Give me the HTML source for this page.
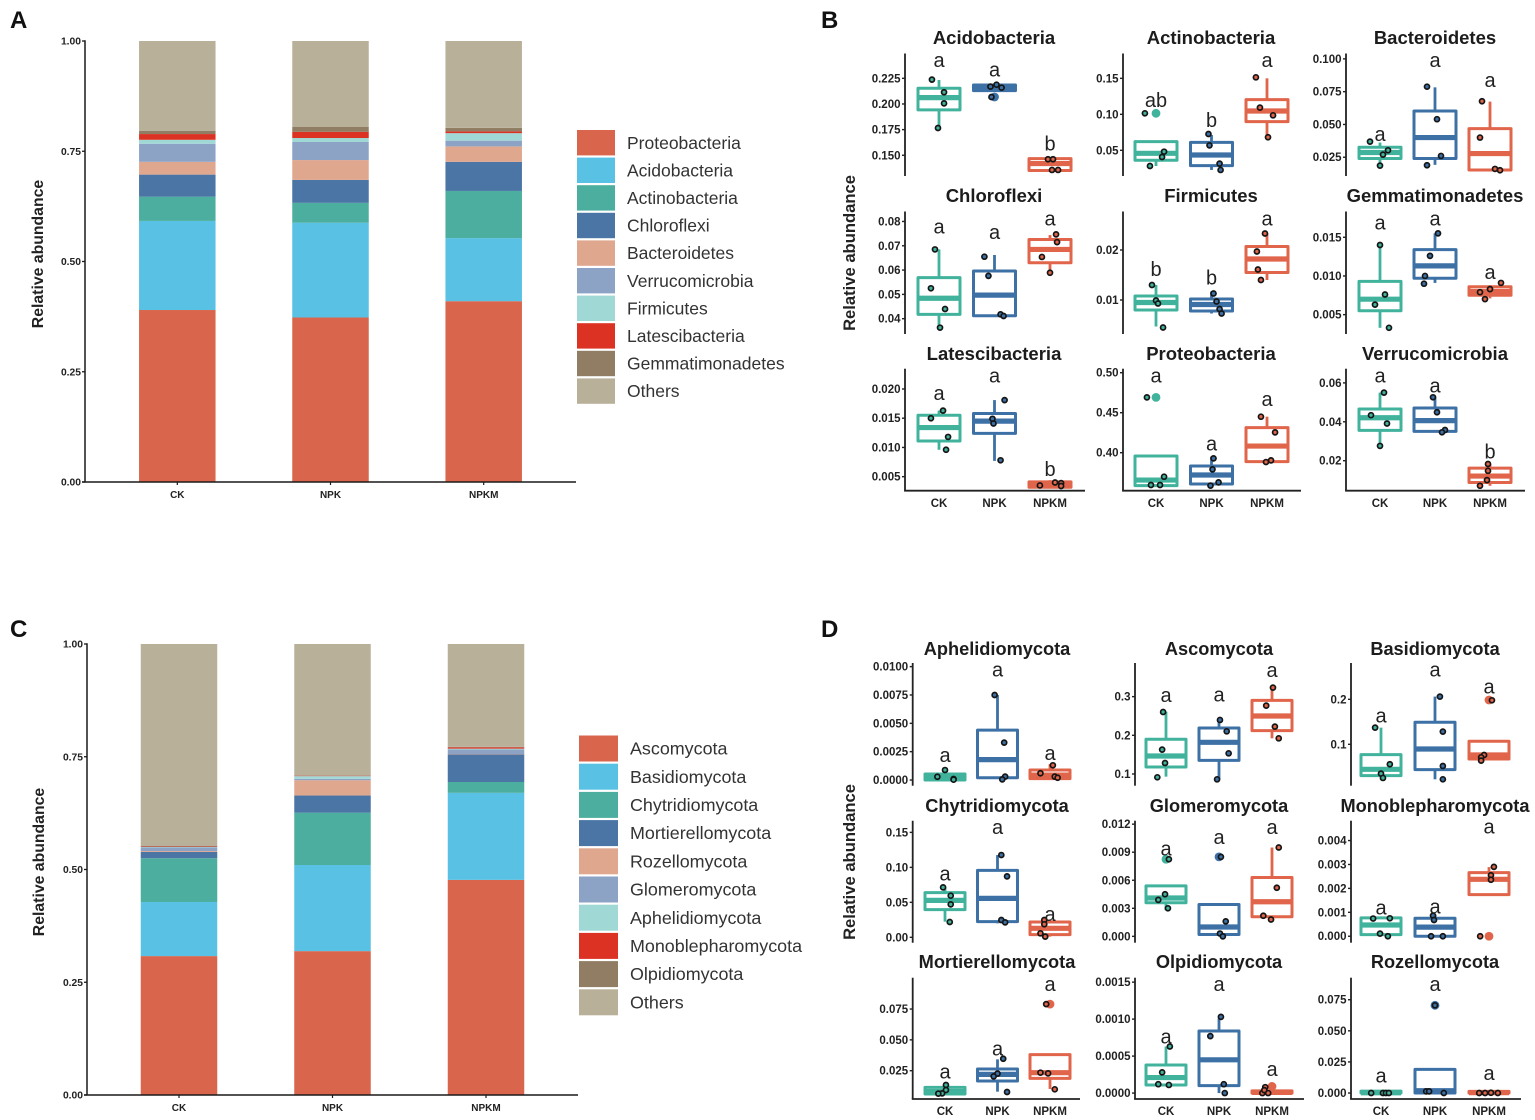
<!DOCTYPE html>
<html lang="en">
<head>
<meta charset="utf-8">
<title>Relative abundance of bacterial and fungal phyla</title>
<style>
html,body{margin:0;padding:0;background:#fff;width:1535px;height:1120px;overflow:hidden}
svg{display:block}
text{font-family:"Liberation Sans",Arial,sans-serif}
</style>
</head>
<body>
<svg id="figure" xmlns="http://www.w3.org/2000/svg" width="1535" height="1120" viewBox="0 0 1535 1120">
  <rect x="0" y="0" width="1535" height="1120" fill="#ffffff"/>
  <text x="10" y="28" font-size="24" font-weight="700" fill="#111">A</text>
  <text x="821" y="28" font-size="24" font-weight="700" fill="#111">B</text>
  <text x="10" y="637" font-size="24" font-weight="700" fill="#111">C</text>
  <text x="821" y="637" font-size="24" font-weight="700" fill="#111">D</text>
  <text transform="translate(43 254) rotate(-90)" text-anchor="middle" font-size="15.8" font-weight="700" fill="#222">Relative abundance</text>
  <text transform="translate(855 253) rotate(-90)" text-anchor="middle" font-size="16.6" font-weight="700" fill="#222">Relative abundance</text>
  <text transform="translate(44 862) rotate(-90)" text-anchor="middle" font-size="15.8" font-weight="700" fill="#222">Relative abundance</text>
  <text transform="translate(855 862) rotate(-90)" text-anchor="middle" font-size="16.6" font-weight="700" fill="#222">Relative abundance</text>
</svg>
<script>
/* ---------- shared categories ---------- */
const treatments = ['CK', 'NPK', 'NPKM'];
const stackTicks = ['0.00', '0.25', '0.50', '0.75', '1.00'];

/* ---------- panel A: stacked bars ---------- */
const bacteriaPhyla = ['Proteobacteria', 'Acidobacteria', 'Actinobacteria', 'Chloroflexi', 'Bacteroidetes', 'Verrucomicrobia', 'Firmicutes', 'Latescibacteria', 'Gemmatimonadetes', 'Others'];
const bacteriaCK = [0.390, 0.202, 0.055, 0.050, 0.029, 0.041, 0.009, 0.013, 0.007, 0.204];
const bacteriaNPK = [0.373, 0.215, 0.045, 0.052, 0.045, 0.041, 0.009, 0.014, 0.011, 0.195];
const bacteriaNPKM = [0.410, 0.143, 0.107, 0.066, 0.035, 0.013, 0.017, 0.004, 0.008, 0.197];

/* ---------- panel C: stacked bars ---------- */
const fungiPhyla = ['Ascomycota', 'Basidiomycota', 'Chytridiomycota', 'Mortierellomycota', 'Rozellomycota', 'Glomeromycota', 'Aphelidiomycota', 'Monoblepharomycota', 'Olpidiomycota', 'Others'];
const fungiCK = [0.308, 0.120, 0.097, 0.014, 0.002, 0.008, 0.001, 0.001, 0.001, 0.448];
const fungiNPK = [0.319, 0.191, 0.116, 0.038, 0.034, 0.003, 0.006, 0.001, 0.001, 0.291];
const fungiNPKM = [0.477, 0.193, 0.024, 0.061, 0.001, 0.010, 0.002, 0.003, 0.001, 0.228];

/* ---------- panel B: box plots (box = low whisker, q1, median, q3, high whisker) ---------- */
const titlesB = ['Acidobacteria', 'Actinobacteria', 'Bacteroidetes', 'Chloroflexi', 'Firmicutes', 'Gemmatimonadetes', 'Latescibacteria', 'Proteobacteria', 'Verrucomicrobia'];
const domainsB = [[0.1298, 0.2492], [0.0143, 0.1845], [0.0107, 0.1041], [0.0337, 0.0841], [0.0032, 0.0277], [0.0025, 0.01833], [0.0026, 0.02347], [0.3525, 0.505], [0.00458, 0.0673]];
const tickLabelsB = [
  ['0.150', '0.175', '0.200', '0.225'], ['0.05', '0.10', '0.15'], ['0.025', '0.050', '0.075', '0.100'],
  ['0.04', '0.05', '0.06', '0.07', '0.08'], ['0.01', '0.02'], ['0.005', '0.010', '0.015'],
  ['0.005', '0.010', '0.015', '0.020'], ['0.40', '0.45', '0.50'], ['0.02', '0.04', '0.06']
];
const lettersB = [['a', 'a', 'b'], ['ab', 'b', 'a'], ['a', 'a', 'a'], ['a', 'a', 'a'], ['b', 'b', 'a'], ['a', 'a', 'a'], ['a', 'a', 'b'], ['a', 'a', 'a'], ['a', 'a', 'b']];
const letterValuesB = [[0.2419, 0.2325, 0.1607], [0.1185, 0.0907, 0.1741], [0.0420, 0.0984, 0.0832], [0.0776, 0.0753, 0.0809], [0.0160, 0.0143, 0.0261], [0.0168, 0.0173, 0.0104], [0.0191, 0.0221, 0.0061], [0.495, 0.4104, 0.4658], [0.0633, 0.0581, 0.0241]];
const boxesB = [
  [[0.1763, 0.1942, 0.2062, 0.2153, 0.2234], [0.2130, 0.2130, 0.2159, 0.2185, 0.2185], [0.1351, 0.1351, 0.1419, 0.1467, 0.1467]],
  [[0.0282, 0.0361, 0.0458, 0.0620, 0.0620], [0.0227, 0.0287, 0.0435, 0.0611, 0.0713], [0.0653, 0.0898, 0.1046, 0.1204, 0.1500]],
  [[0.0179, 0.0240, 0.0286, 0.0326, 0.0362], [0.0192, 0.0240, 0.0400, 0.0603, 0.0783], [0.0153, 0.0153, 0.0278, 0.0468, 0.0674]],
  [[0.0363, 0.0418, 0.0484, 0.0569, 0.0685], [0.0411, 0.0412, 0.0497, 0.0596, 0.0662], [0.0589, 0.0630, 0.0685, 0.0726, 0.0744]],
  [[0.0047, 0.0080, 0.0095, 0.0108, 0.0130], [0.0073, 0.0078, 0.0091, 0.0102, 0.0117], [0.0140, 0.0155, 0.0182, 0.0207, 0.0233]],
  [[0.0033, 0.0055, 0.0070, 0.0093, 0.0140], [0.0091, 0.0097, 0.0113, 0.0134, 0.0155], [0.0071, 0.0075, 0.0080, 0.0086, 0.0088]],
  [[0.0096, 0.0111, 0.0134, 0.0155, 0.0163], [0.0077, 0.0124, 0.0145, 0.0158, 0.0181], [0.0031, 0.0032, 0.0037, 0.0041, 0.0044]],
  [[0.3588, 0.3588, 0.3658, 0.3958, 0.3958], [0.3588, 0.3608, 0.3721, 0.3833, 0.3950], [0.3888, 0.3888, 0.4083, 0.4313, 0.4450]],
  [[0.0276, 0.0356, 0.0421, 0.0466, 0.0550], [0.0351, 0.0351, 0.0406, 0.0471, 0.0526], [0.0071, 0.0088, 0.0121, 0.0162, 0.0183]]
];
const pointsB = [
  [[0.2237, 0.2114, 0.2006, 0.1766], [0.2169, 0.2188, 0.2159, 0.2068], [0.1461, 0.1461, 0.1357, 0.1357]],
  [[0.1014, 0.0481, 0.0407, 0.0282], [0.0727, 0.0569, 0.0315, 0.0227], [0.1514, 0.1093, 0.0986, 0.0681]],
  [[0.0369, 0.0303, 0.0270, 0.0186], [0.0788, 0.0540, 0.0260, 0.0189], [0.0677, 0.0400, 0.0161, 0.0151]],
  [[0.0685, 0.0525, 0.0440, 0.0363], [0.0655, 0.0576, 0.0418, 0.0411], [0.0747, 0.0715, 0.0654, 0.0589]],
  [[0.0130, 0.0099, 0.0093, 0.0045], [0.0113, 0.0097, 0.0082, 0.0073], [0.0233, 0.0197, 0.0161, 0.0140]],
  [[0.0140, 0.0076, 0.0063, 0.0033], [0.0155, 0.0126, 0.0100, 0.0090], [0.0091, 0.0083, 0.0079, 0.0070]],
  [[0.0163, 0.0150, 0.0118, 0.0096], [0.0181, 0.0149, 0.0141, 0.0078], [0.0035, 0.0040, 0.0039, 0.0034]],
  [[0.4692, 0.3700, 0.3596, 0.3596], [0.3929, 0.3792, 0.3629, 0.3588], [0.4450, 0.4254, 0.3883, 0.3904]],
  [[0.0550, 0.0434, 0.0391, 0.0276], [0.0526, 0.0449, 0.0358, 0.0346], [0.0183, 0.0148, 0.0100, 0.0071]]
];
const jitterB = [
  [[-7, 5, 5, -1], [-4, 2, 7, -3], [-2, 3, 2, 8]],
  [[-11, 8, 6, -6], [-3, -2, 8, 9], [-11, -7, 6, 1]],
  [[-10, 8, 3, 0], [-8, 2, 6, -8], [-8, -10, 5, 10]],
  [[-4, -8, 6, 1], [-10, -6, 6, 9], [6, 7, -8, 0]],
  [[-4, 0, 2, 7], [2, 5, 8, 10], [-2, -10, -9, -6]],
  [[0, 5, -5, 9], [3, -5, -10, -11], [11, 0, -10, -5]],
  [[4, -8, 9, 7], [10, -2, -1, 6], [-10, 5, 11, 11]],
  [[-9, 8, -5, 4], [2, 1, 7, -1], [-6, 8, -1, 4]],
  [[4, -9, 7, 0], [-2, 2, 10, 7], [-2, -2, -3, -10]]
];
const outliersB = [[[1, 0.2068]], [[0, 0.1014]], [], [], [], [], [], [[0, 0.4692]], []];

/* ---------- panel D: box plots ---------- */
const titlesD = ['Aphelidiomycota', 'Ascomycota', 'Basidiomycota', 'Chytridiomycota', 'Glomeromycota', 'Monoblepharomycota', 'Mortierellomycota', 'Olpidiomycota', 'Rozellomycota'];
const domainsD = [[-0.0005, 0.01032], [0.0697, 0.387], [0.008, 0.2807], [-0.0077, 0.1667], [-0.00068, 0.01237], [-0.00027, 0.00483], [0.00205, 0.1004], [-0.00008, 0.00156], [-0.0048, 0.0927]];
const tickLabelsD = [
  ['0.0000', '0.0025', '0.0050', '0.0075', '0.0100'], ['0.1', '0.2', '0.3'], ['0.1', '0.2'],
  ['0.00', '0.05', '0.10', '0.15'], ['0.000', '0.003', '0.006', '0.009', '0.012'], ['0.000', '0.001', '0.002', '0.003', '0.004'],
  ['0.025', '0.050', '0.075'], ['0.0000', '0.0005', '0.0010', '0.0015'], ['0.000', '0.025', '0.050', '0.075']
];
const lettersD = [['a', 'a', 'a'], ['a', 'a', 'a'], ['a', 'a', 'a'], ['a', 'a', 'a'], ['a', 'a', 'a'], ['a', 'a', 'a'], ['a', 'a', 'a'], ['a', 'a', 'a'], ['a', 'a', 'a']];
const letterValuesD = [[0.0021, 0.00965, 0.0023], [0.3017, 0.3034, 0.3664], [0.1615, 0.2638, 0.2260], [0.0900, 0.1566, 0.0319], [0.0093, 0.0105, 0.0116], [0.00117, 0.00121, 0.00454], [0.0234, 0.0423, 0.0944], [0.00075, 0.00146, 0.00031], [0.0131, 0.0868, 0.0153]];
const boxesD = [
  [[0.0000, 0.0000, 0.0003, 0.00053, 0.0010], [0.0002, 0.0002, 0.0018, 0.0044, 0.0075], [0.00012, 0.00012, 0.00044, 0.00088, 0.0014]],
  [[0.0931, 0.1181, 0.1466, 0.1897, 0.2612], [0.0862, 0.1353, 0.1819, 0.2190, 0.2397], [0.1922, 0.2120, 0.2500, 0.2905, 0.3233]],
  [[0.0303, 0.0303, 0.0444, 0.0770, 0.1370], [0.0222, 0.0437, 0.0896, 0.1489, 0.2060], [0.0652, 0.0674, 0.0763, 0.1067, 0.1067]],
  [[0.0224, 0.0395, 0.0528, 0.0638, 0.0709], [0.0200, 0.0224, 0.0557, 0.0957, 0.1176], [0.0010, 0.0038, 0.0129, 0.0219, 0.0257]],
  [[0.0028, 0.0036, 0.0041, 0.0054, 0.0054], [0.0002, 0.0002, 0.0010, 0.0034, 0.0034], [0.0021, 0.0021, 0.0037, 0.0063, 0.0095]],
  [[0.00007, 0.00007, 0.00047, 0.00077, 0.00077], [0.0000, 0.0000, 0.00038, 0.00075, 0.00089], [0.00174, 0.00174, 0.00238, 0.00266, 0.00289]],
  [[0.0061, 0.0061, 0.0080, 0.0115, 0.0134], [0.0080, 0.0166, 0.0220, 0.0264, 0.0342], [0.0102, 0.0188, 0.0234, 0.0380, 0.0380]],
  [[0.00011, 0.00011, 0.00021, 0.00038, 0.00063], [0.0000, 0.0001, 0.00045, 0.00084, 0.00101], [0.0000, 0.0000, 0.00001, 0.00003, 0.00003]],
  [[0.0000, 0.0000, 0.0002, 0.0015, 0.0015], [0.0000, 0.0000, 0.0019, 0.0190, 0.0190], [0.0000, 0.0000, 0.0003, 0.0013, 0.0013]]
];
const pointsD = [
  [[0.00088, 0.00029, 0.00009, 0.00003], [0.0075, 0.0033, 0.0003, 0.00006], [0.0013, 0.0006, 0.0003, 0.0002]],
  [[0.2603, 0.1629, 0.1284, 0.0914], [0.2397, 0.2103, 0.1534, 0.0862], [0.3233, 0.2767, 0.2224, 0.1922]],
  [[0.1370, 0.0556, 0.0348, 0.0252], [0.2060, 0.1282, 0.0518, 0.0222], [0.1978, 0.0763, 0.0711, 0.0637]],
  [[0.0714, 0.0595, 0.0471, 0.0219], [0.1176, 0.0871, 0.0248, 0.0214], [0.0248, 0.0186, 0.0057, 0.0010]],
  [[0.00825, 0.0045, 0.0039, 0.0030], [0.0085, 0.0016, 0.0003, 0.0000], [0.0095, 0.0052, 0.0022, 0.0018]],
  [[0.00074, 0.00075, 0.00011, 0.0000], [0.00086, 0.00068, 0.0000, 0.0000], [0.0029, 0.00255, 0.00236, 0.0000]],
  [[0.0134, 0.0093, 0.0066, 0.0064], [0.0347, 0.0226, 0.0204, 0.0077], [0.0790, 0.0234, 0.0228, 0.0099]],
  [[0.00063, 0.00028, 0.00012, 0.00011], [0.00103, 0.00077, 0.00012, 0.0000], [0.00008, 0.0000, 0.0000, 0.00004]],
  [[0.0000, 0.0000, 0.0000, 0.0000], [0.0705, 0.0013, 0.0013, 0.0000], [0.0000, 0.0002, 0.0000, 0.0000]]
];
const jitterD = [
  [[0, -8, 9, 9], [-3, 7, 8, 5], [3, -10, 5, 8]],
  [[-3, -4, -1, -9], [1, 8, 10, -2], [1, -6, 3, 7]],
  [[-6, 9, 0, 2], [5, 8, 8, 8], [3, -5, -8, -8]],
  [[-2, 6, 6, 5], [4, 10, 4, 8], [-6, -6, -10, -5]],
  [[3, -1, -8, 2], [2, 7, 1, 4], [7, 5, -9, -1]],
  [[-8, 9, -1, 7], [-2, -1, -4, 8], [5, 2, 2, -9]],
  [[1, 1, -3, -7], [6, 0, -4, 10], [-4, -10, -2, 5]],
  [[4, -4, -8, 3], [2, -9, 5, 6], [-7, -10, -4, -8]],
  [[-10, 2, 5, 8], [0, -9, -6, 9], [-4, 2, 9, -10]]
];
const outliersD = [[], [], [[2, 0.1985]], [], [[0, 0.00825], [1, 0.0085]], [[2, 0.0000]], [[2, 0.0790]], [[2, 0.00009]], [[1, 0.0705]]];

/* ---------- styling and layout (not data) ---------- */
const stackColors = ['#D9664C', '#58C1E4', '#4CAE9E', '#4A75A5', '#E0A78F', '#8CA3C6', '#A0D8D5', '#DC3223', '#917D64', '#B9B09A'];
const groupColors = ['#41B39C', '#3D71A6', '#E0654A'];
const SVG_NS = 'http://www.w3.org/2000/svg';
const figure = document.getElementById('figure');

function make(tag, attrs, parent, content) {
  const el = document.createElementNS(SVG_NS, tag);
  Object.keys(attrs).forEach(function (k) { el.setAttribute(k, attrs[k]); });
  if (content !== undefined) el.textContent = content;
  parent.appendChild(el);
  return el;
}
function linear(domain, range) {
  return function (v) {
    return range[0] + (v - domain[0]) / (domain[1] - domain[0]) * (range[1] - range[0]);
  };
}
function slug(s) { return s.toLowerCase(); }

function drawStackPanel(id, layout, phyla, series) {
  const g = make('g', {}, figure);
  
  
  const y = linear([0, 1], [layout.y0, layout.y1]);
  const x = function (i) { return layout.cx0 + i * layout.step; };

  series.forEach(function (values, i) {
    let cum = 0;
    values.forEach(function (v, s) {
      const top = y(cum + v);
      const bottom = y(cum);
      cum += v;
      const r = make('rect', { x: x(i) - layout.barW / 2, y: top, width: layout.barW, height: bottom - top, fill: stackColors[s] }, g);
      
      
    });
  });

  const yAxis = make('line', { x1: layout.axisX, x2: layout.axisX, y1: layout.y1 - 0.8, y2: layout.y0, stroke: '#1a1a1a', 'stroke-width': 1.5 }, g);
  
  
  const xAxis = make('line', { x1: layout.axisX - 3, x2: layout.xEnd, y1: layout.y0, y2: layout.y0, stroke: '#1a1a1a', 'stroke-width': 1.5 }, g);
  
  

  stackTicks.forEach(function (label) {
    const py = y(Number(label));
    const tick = make('line', { x1: layout.axisX - 3, x2: layout.axisX, y1: py, y2: py, stroke: '#1a1a1a', 'stroke-width': 1.3 }, g);
    
    
    const t = make('text', { x: layout.axisX - 4, y: py + 3.6, 'text-anchor': 'end', 'font-size': 10.3, 'font-weight': 700, fill: '#222' }, g, label);
    
    
  });
  treatments.forEach(function (label, i) {
    const tick = make('line', { x1: x(i), x2: x(i), y1: layout.y0, y2: layout.y0 + 3, stroke: '#1a1a1a', 'stroke-width': 1.2 }, g);
    
    
    const t = make('text', { x: x(i), y: layout.y0 + 16, 'text-anchor': 'middle', 'font-size': 10, 'font-weight': 700, fill: '#222' }, g, label);
    
    
  });

  const leg = make('g', {}, figure);
  
  
  phyla.forEach(function (name, s) {
    const top = layout.legTop + s * layout.legStep;
    const sw = make('rect', { x: layout.legX, y: top, width: layout.legSw, height: layout.legStep - 2.2, fill: stackColors[s] }, leg);
    
    
    const t = make('text', { x: layout.legTextX, y: top + layout.legStep / 2 + 5, 'font-size': layout.legFont, fill: '#333' }, leg, name);
    
    
  });
}

function drawBoxPanels(id, layout, titles, domains, tickLabels, letters, letterValues, boxes, points, jitter, outliers) {
  titles.forEach(function (title, p) {
    const col = p % 3;
    const row = Math.floor(p / 3);
    const top = layout.rowTop[row];
    const bottom = layout.rowBottom[row];
    const axisX = layout.axisX[col];
    const step = layout.step[col];
    const cx0 = layout.cx0[col];
    const y = linear(domains[p], [bottom, top]);
    const x = function (i) { return cx0 + i * step; };

    const g = make('g', {}, figure);
    
    

    const head = make('text', { x: layout.titleX[col], y: layout.titleY[row], 'text-anchor': 'middle', 'font-size': layout.titleSize, 'font-weight': 700, fill: '#1c1c1c' }, g, title);
    
    

    const yAxis = make('line', { x1: axisX, x2: axisX, y1: top, y2: bottom, stroke: '#222', 'stroke-width': 1.8 }, g);
    
    

    tickLabels[p].forEach(function (label) {
      const py = y(Number(label));
      const tick = make('line', { x1: axisX - 3, x2: axisX, y1: py, y2: py, stroke: '#222', 'stroke-width': 1.4 }, g);
      
      
      const t = make('text', { x: axisX - 4.5, y: py + 4, 'text-anchor': 'end', 'font-size': 11.5, 'font-weight': 700, fill: '#222' }, g, label);
      
      
    });

    if (row === 2) {
      const xAxis = make('line', { x1: axisX - 0.9, x2: layout.xEnd[col], y1: bottom, y2: bottom, stroke: '#222', 'stroke-width': 1.8 }, g);
      
      
      treatments.forEach(function (label, i) {
        const t = make('text', { x: x(i), y: layout.xLabelY, 'text-anchor': 'middle', 'font-size': 11.5, 'font-weight': 700, fill: '#222' }, g, label);
        
        
      });
    }

    treatments.forEach(function (group, i) {
      const color = groupColors[i];
      const b = boxes[p][i];
      const half = layout.boxW / 2;
      const lowWhisker = make('line', { x1: x(i), x2: x(i), y1: y(b[1]), y2: y(b[0]), stroke: color, 'stroke-width': 2.8 }, g);
      
      
      const highWhisker = make('line', { x1: x(i), x2: x(i), y1: y(b[3]), y2: y(b[4]), stroke: color, 'stroke-width': 2.8 }, g);
      
      
      const box = make('rect', { x: x(i) - half, y: y(b[3]), width: half * 2, height: Math.max(0.5, y(b[1]) - y(b[3])), fill: '#fff', stroke: color, 'stroke-width': 3, 'stroke-linejoin': 'round' }, g);
      
      
      const median = make('line', { x1: x(i) - half, x2: x(i) + half, y1: y(b[2]), y2: y(b[2]), stroke: color, 'stroke-width': 5.2 }, g);
      
      
    });

    outliers[p].forEach(function (o) {
      const dot = make('circle', { cx: x(o[0]), cy: y(o[1]), r: 4.4, fill: groupColors[o[0]] }, g);
      
      
    });

    treatments.forEach(function (group, i) {
      points[p][i].forEach(function (v, k) {
        const dot = make('circle', { cx: x(i) + jitter[p][i][k] * step / 55, cy: y(v), r: 2.5, fill: groupColors[i], stroke: '#151515', 'stroke-width': 1.7 }, g);
        
        
      });
      const t = make('text', { x: x(i), y: y(letterValues[p][i]) + 6, 'text-anchor': 'middle', 'font-size': 20, fill: '#222' }, g, letters[p][i]);
      
      
    });
  });
}

drawStackPanel('a', { y0: 482, y1: 41, axisX: 85, xEnd: 576, cx0: 177.3, step: 153.2, barW: 76.5, legX: 577, legTop: 130, legStep: 27.6, legSw: 38, legTextX: 627, legFont: 17.5 },
  bacteriaPhyla, [bacteriaCK, bacteriaNPK, bacteriaNPKM]);
drawStackPanel('c', { y0: 1095, y1: 644, axisX: 87, xEnd: 578, cx0: 179, step: 153.5, barW: 76.5, legX: 579, legTop: 735.5, legStep: 28.2, legSw: 39, legTextX: 630, legFont: 17.9 },
  fungiPhyla, [fungiCK, fungiNPK, fungiNPKM]);

drawBoxPanels('b', {
  axisX: [905, 1123, 1346], xEnd: [1085, 1301, 1525], cx0: [939, 1156, 1380], step: [55.5, 55.5, 55],
  rowTop: [53.5, 211.5, 368.7], rowBottom: [176, 334, 490.7], titleX: [994, 1211, 1435], titleY: [44, 202, 360],
  titleSize: 18.5, boxW: 42, xLabelY: 507
}, titlesB, domainsB, tickLabelsB, lettersB, letterValuesB, boxesB, pointsB, jitterB, outliersB);

drawBoxPanels('d', {
  axisX: [912.7, 1135, 1351], xEnd: [1080, 1304, 1521], cx0: [945, 1166, 1381], step: [52.5, 53, 54],
  rowTop: [663, 820.7, 977.7], rowBottom: [785.7, 942.7, 1099], titleX: [997, 1219, 1435], titleY: [655, 812, 968],
  titleSize: 18.2, boxW: 40, xLabelY: 1115
}, titlesD, domainsD, tickLabelsD, lettersD, letterValuesD, boxesD, pointsD, jitterD, outliersD);
</script>
</body>
</html>
